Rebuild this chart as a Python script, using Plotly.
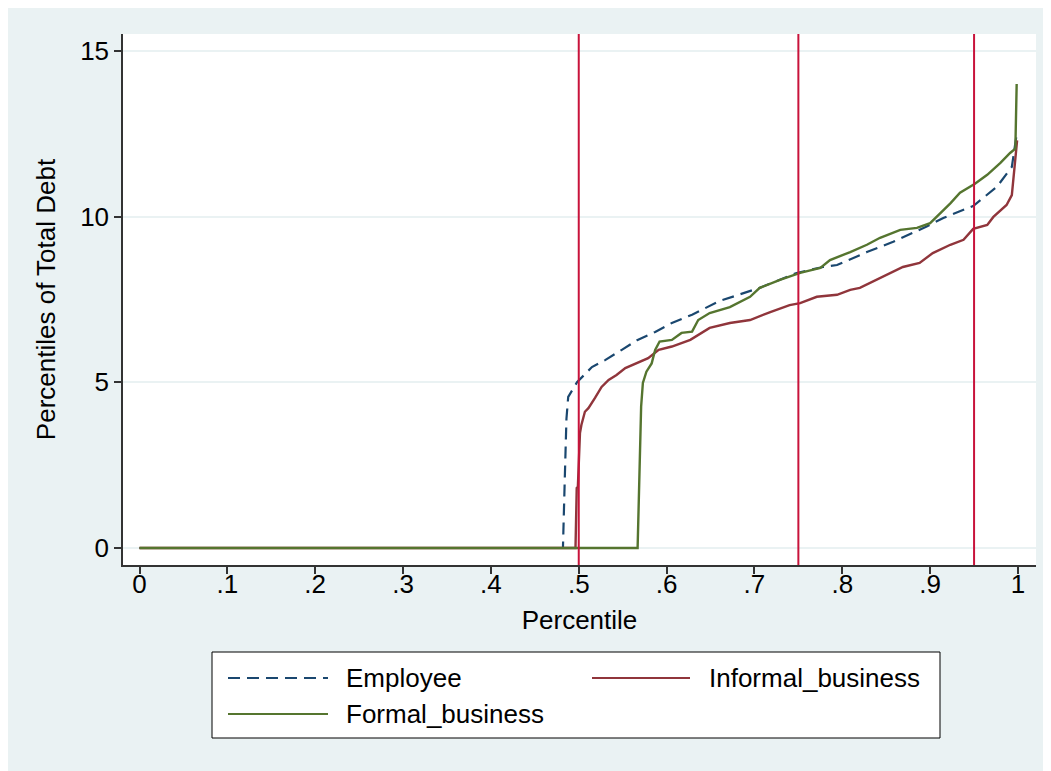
import plotly.graph_objects as go

# ---- data ----
employee_x = [0, 0.482, 0.484, 0.486, 0.488, 0.498, 0.515, 0.530, 0.549, 0.567, 0.587,
              0.606, 0.629, 0.660, 0.706, 0.748, 0.778, 0.794, 0.828, 0.858, 0.896,
              0.915, 0.949, 0.976, 0.993, 0.998]
employee_y = [0, 0, 2.0, 3.9, 4.56, 5.0, 5.46, 5.67, 5.98, 6.28, 6.52,
              6.79, 7.04, 7.45, 7.85, 8.3, 8.48, 8.54, 8.93, 9.24, 9.7,
              9.96, 10.32, 10.9, 11.5, 12.4]

informal_x = [0, 0.4963, 0.4977, 0.499, 0.5014, 0.503, 0.507, 0.511, 0.5185, 0.526,
              0.534, 0.543, 0.553, 0.566, 0.579, 0.591, 0.606, 0.627, 0.649, 0.672,
              0.695, 0.718, 0.740, 0.752, 0.771, 0.794, 0.809, 0.820, 0.843, 0.869,
              0.888, 0.903, 0.923, 0.938, 0.949, 0.965, 0.972, 0.987, 0.993, 0.995, 0.999]
informal_y = [0, 0, 1.81, 1.85, 3.47, 3.71, 4.11, 4.22, 4.53, 4.86,
              5.07, 5.22, 5.43, 5.58, 5.73, 5.98, 6.08, 6.28, 6.64, 6.79,
              6.88, 7.12, 7.33, 7.39, 7.58, 7.64, 7.79, 7.85, 8.15, 8.48,
              8.6, 8.9, 9.15, 9.3, 9.63, 9.75, 9.99, 10.35, 10.65, 11.2, 12.3]

formal_x = [0, 0.567, 0.571, 0.573, 0.577, 0.583, 0.587, 0.592, 0.606, 0.617, 0.629,
            0.636, 0.649, 0.672, 0.695, 0.706, 0.729, 0.752, 0.775, 0.786, 0.809,
            0.828, 0.843, 0.866, 0.885, 0.900, 0.923, 0.934, 0.951, 0.965, 0.980,
            0.991, 0.997, 0.9985]
formal_y = [0, 0, 4.27, 4.98, 5.32, 5.57, 5.98, 6.23, 6.28, 6.49, 6.53,
            6.88, 7.09, 7.27, 7.58, 7.85, 8.09, 8.3, 8.45, 8.69, 8.93,
            9.15, 9.36, 9.6, 9.66, 9.8, 10.4, 10.72, 10.99, 11.26, 11.62,
            11.92, 12.05, 14.0]

ref_lines = [0.5, 0.75, 0.95]

x_tickvals = [0, 0.1, 0.2, 0.3, 0.4, 0.5, 0.6, 0.7, 0.8, 0.9, 1]
x_ticktext = ["0", ".1", ".2", ".3", ".4", ".5", ".6", ".7", ".8", ".9", "1"]
y_tickvals = [0, 5, 10, 15]
y_ticktext = ["0", "5", "10", "15"]

series_names = ["Employee", "Informal_business", "Formal_business"]
series_colors = ["#1A476F", "#90353B", "#55752F"]

# ---- figure ----
W, H = 1051, 771
OFF = 8  # page body margin
# plot area in screenshot pixels
L, R, T, B = 123, 1036, 34, 565
PW, PH = R - L, B - T
FONT = "Liberation Sans, Arial, sans-serif"
BG = "#EAF2F3"

def px_x(p):
    return (p - L) / PW

def px_y(p):
    return (B - p) / PH

fig = go.Figure()
fig.add_trace(go.Scatter(x=employee_x, y=employee_y, mode="lines", name=series_names[0],
                         line=dict(color=series_colors[0], width=2.2, dash="12px,7px")))
fig.add_trace(go.Scatter(x=informal_x, y=informal_y, mode="lines", name=series_names[1],
                         line=dict(color=series_colors[1], width=2.4)))
fig.add_trace(go.Scatter(x=formal_x, y=formal_y, mode="lines", name=series_names[2],
                         line=dict(color=series_colors[2], width=2.4)))

for v in ref_lines:
    fig.add_shape(type="line", xref="x", yref="paper", x0=v, x1=v, y0=0, y1=1,
                  line=dict(color="#C8133B", width=2))

shapes_extra = []
# legend box
shapes_extra.append(dict(type="rect", xref="paper", yref="paper",
                         x0=px_x(212), x1=px_x(940), y0=px_y(738), y1=px_y(652),
                         fillcolor="white", line=dict(color="black", width=1)))
# legend samples
legend_items = [
    (228, 328, 678, 344, 0, "12px,7px"),
    (592, 690, 678, 707, 1, "solid"),
    (228, 328, 714, 344, 2, "solid"),
]
annotations = []
for x0, x1, yy, tx, idx, dash in legend_items:
    shapes_extra.append(dict(type="line", xref="paper", yref="paper",
                             x0=px_x(x0), x1=px_x(x1), y0=px_y(yy), y1=px_y(yy),
                             line=dict(color=series_colors[idx], width=2, dash=dash)))
    annotations.append(dict(xref="paper", yref="paper", x=px_x(tx), y=px_y(yy),
                            text=series_names[idx], showarrow=False, xanchor="left",
                            yanchor="middle", font=dict(size=26, color="black", family=FONT)))

for s in shapes_extra:
    fig.add_shape(**s)

fig.update_layout(
    width=W, height=H,
    margin=dict(l=L - OFF, r=W - (R - OFF), t=T - OFF, b=H - (B - OFF), pad=0),
    paper_bgcolor=BG, plot_bgcolor="white",
    font=dict(family=FONT, size=26, color="black"),
    showlegend=False,
    annotations=annotations,
)
fig.update_xaxes(range=[-0.0188, 1.0205], tickvals=x_tickvals, ticktext=x_ticktext,
                 showgrid=False, zeroline=False, showline=True, linecolor="#333333",
                 linewidth=1.5, ticks="outside", ticklen=7, tickcolor="#333333",
                 tickwidth=1.5, tickfont=dict(size=26), ticklabelstandoff=-12,
                 title=dict(text="Percentile", font=dict(size=26), standoff=13))
fig.update_yaxes(range=[-0.513, 15.51], tickvals=y_tickvals, ticktext=y_ticktext,
                 showgrid=True, gridcolor=BG, gridwidth=1.5, zeroline=False,
                 showline=True, linecolor="#333333", linewidth=1.5, ticks="outside",
                 ticklen=7, tickcolor="#333333", tickwidth=1.5, tickfont=dict(size=26),
                 title=dict(text="Percentiles of Total Debt", font=dict(size=26), standoff=17))

fig.write_html("out.html")
